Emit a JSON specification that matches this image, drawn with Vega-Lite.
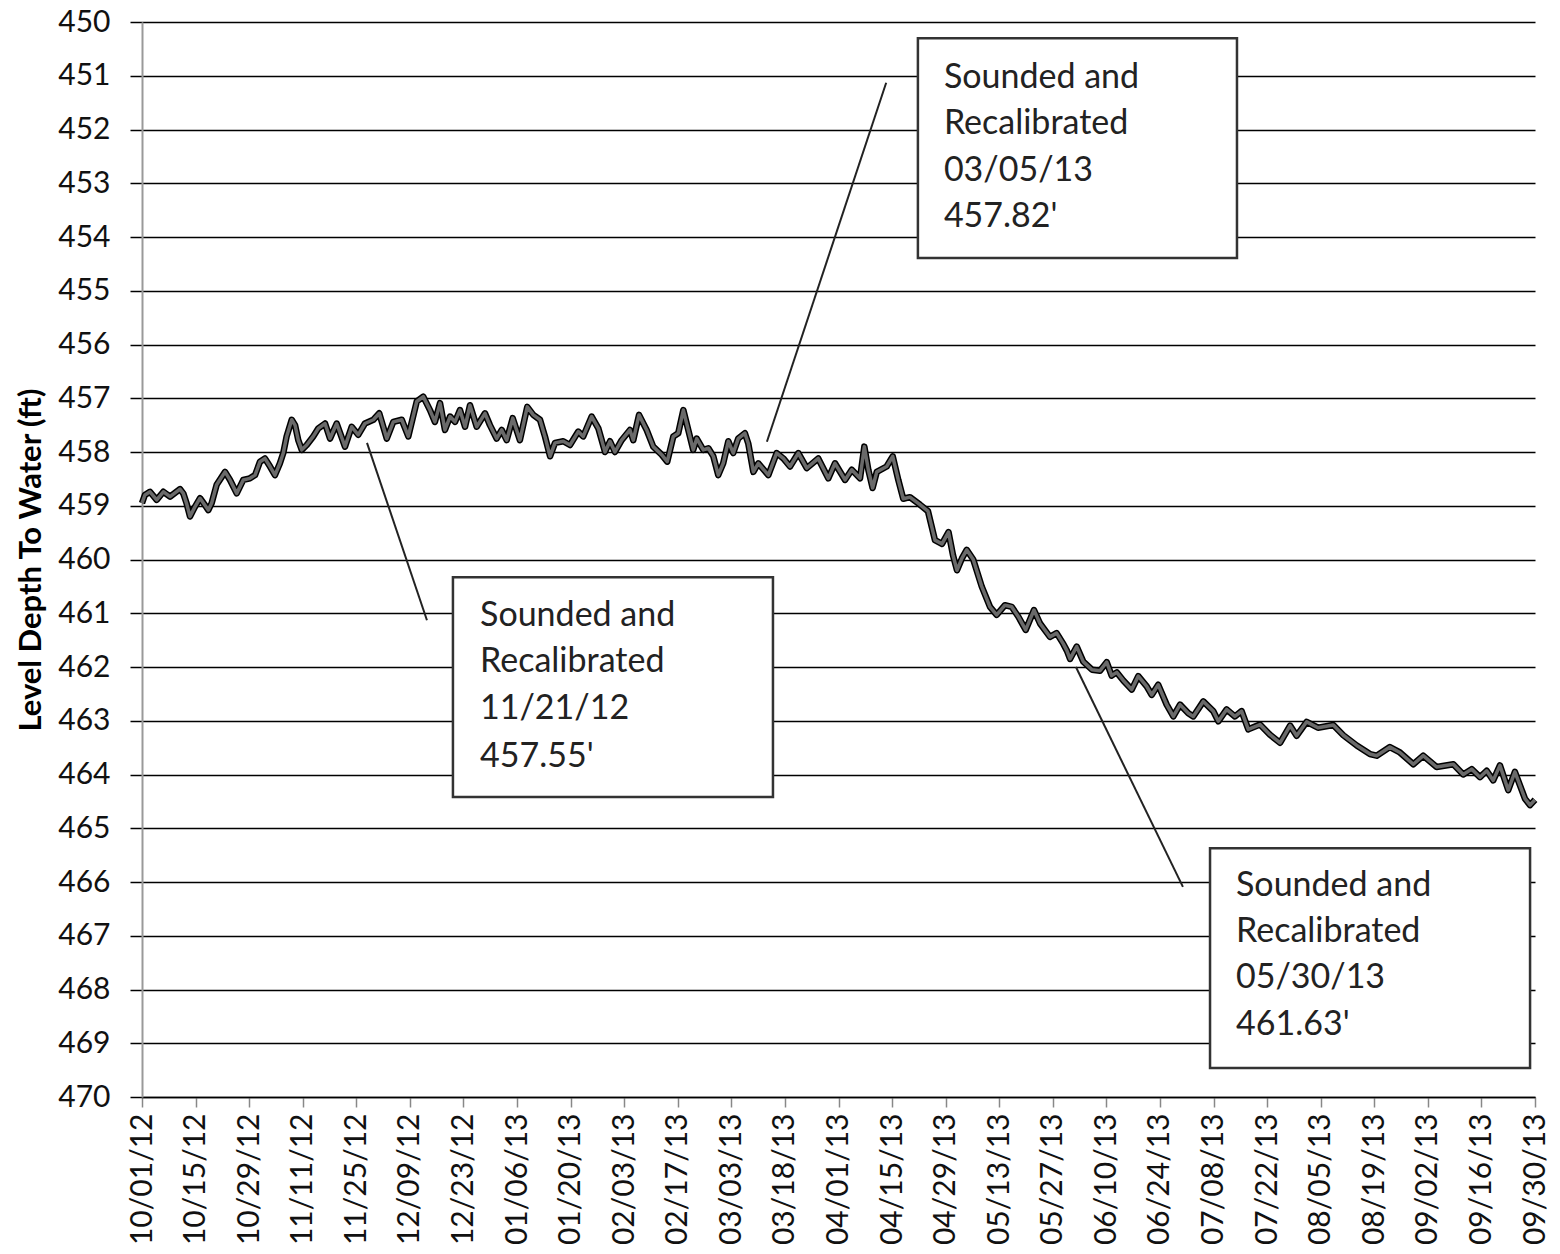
{
  "$schema": "https://vega.github.io/schema/vega-lite/v6.json",
  "width": 1393,
  "height": 1075,
  "autosize": "none",
  "padding": {"left": 142, "top": 22, "right": 25, "bottom": 157},
  "background": "white",
  "config": {"view": {"stroke": null}, "font": "Lato"},
  "datasets": {
    "series": [
      {"date": "2012-10-01T00:00Z", "depth": 458.95},
      {"date": "2012-10-01T18:00Z", "depth": 458.80},
      {"date": "2012-10-03T02:00Z", "depth": 458.74},
      {"date": "2012-10-04T20:00Z", "depth": 458.89},
      {"date": "2012-10-06T14:00Z", "depth": 458.74},
      {"date": "2012-10-08T08:00Z", "depth": 458.83},
      {"date": "2012-10-10T22:00Z", "depth": 458.69},
      {"date": "2012-10-11T19:00Z", "depth": 458.77},
      {"date": "2012-10-12T16:00Z", "depth": 458.96},
      {"date": "2012-10-13T13:00Z", "depth": 459.20},
      {"date": "2012-10-14T20:00Z", "depth": 459.02},
      {"date": "2012-10-16T04:00Z", "depth": 458.86},
      {"date": "2012-10-17T11:00Z", "depth": 458.99},
      {"date": "2012-10-18T08:00Z", "depth": 459.08},
      {"date": "2012-10-19T05:00Z", "depth": 458.95},
      {"date": "2012-10-20T12:00Z", "depth": 458.61},
      {"date": "2012-10-22T17:00Z", "depth": 458.37},
      {"date": "2012-10-24T00:00Z", "depth": 458.52},
      {"date": "2012-10-25T18:00Z", "depth": 458.77},
      {"date": "2012-10-27T11:00Z", "depth": 458.52},
      {"date": "2012-10-29T05:00Z", "depth": 458.49},
      {"date": "2012-10-30T13:00Z", "depth": 458.43},
      {"date": "2012-10-31T20:00Z", "depth": 458.18},
      {"date": "2012-11-02T03:00Z", "depth": 458.12},
      {"date": "2012-11-03T11:00Z", "depth": 458.27},
      {"date": "2012-11-04T18:00Z", "depth": 458.43},
      {"date": "2012-11-06T01:00Z", "depth": 458.21},
      {"date": "2012-11-06T22:00Z", "depth": 458.02},
      {"date": "2012-11-07T19:00Z", "depth": 457.71},
      {"date": "2012-11-09T03:00Z", "depth": 457.40},
      {"date": "2012-11-10T00:00Z", "depth": 457.50},
      {"date": "2012-11-10T20:00Z", "depth": 457.78},
      {"date": "2012-11-11T18:00Z", "depth": 457.96},
      {"date": "2012-11-13T01:00Z", "depth": 457.87},
      {"date": "2012-11-14T18:00Z", "depth": 457.71},
      {"date": "2012-11-16T02:00Z", "depth": 457.56},
      {"date": "2012-11-17T20:00Z", "depth": 457.47},
      {"date": "2012-11-19T03:00Z", "depth": 457.75},
      {"date": "2012-11-20T21:00Z", "depth": 457.47},
      {"date": "2012-11-23T01:00Z", "depth": 457.90},
      {"date": "2012-11-24T19:00Z", "depth": 457.53},
      {"date": "2012-11-26T12:00Z", "depth": 457.68},
      {"date": "2012-11-28T06:00Z", "depth": 457.47},
      {"date": "2012-11-30T11:00Z", "depth": 457.40},
      {"date": "2012-12-02T00:00Z", "depth": 457.28},
      {"date": "2012-12-03T23:00Z", "depth": 457.75},
      {"date": "2012-12-05T16:00Z", "depth": 457.44},
      {"date": "2012-12-07T21:00Z", "depth": 457.40},
      {"date": "2012-12-09T14:00Z", "depth": 457.71},
      {"date": "2012-12-11T19:00Z", "depth": 457.06},
      {"date": "2012-12-13T12:00Z", "depth": 456.97},
      {"date": "2012-12-15T06:00Z", "depth": 457.22},
      {"date": "2012-12-16T13:00Z", "depth": 457.44},
      {"date": "2012-12-17T21:00Z", "depth": 457.09},
      {"date": "2012-12-19T04:00Z", "depth": 457.59},
      {"date": "2012-12-20T12:00Z", "depth": 457.34},
      {"date": "2012-12-21T19:00Z", "depth": 457.44},
      {"date": "2012-12-23T02:00Z", "depth": 457.22},
      {"date": "2012-12-24T10:00Z", "depth": 457.53},
      {"date": "2012-12-25T17:00Z", "depth": 457.13},
      {"date": "2012-12-27T11:00Z", "depth": 457.53},
      {"date": "2012-12-29T15:00Z", "depth": 457.28},
      {"date": "2012-12-30T22:00Z", "depth": 457.50},
      {"date": "2013-01-01T16:00Z", "depth": 457.75},
      {"date": "2013-01-03T00:00Z", "depth": 457.59},
      {"date": "2013-01-04T07:00Z", "depth": 457.78},
      {"date": "2013-01-05T21:00Z", "depth": 457.37},
      {"date": "2013-01-07T18:00Z", "depth": 457.78},
      {"date": "2013-01-09T16:00Z", "depth": 457.16},
      {"date": "2013-01-11T06:00Z", "depth": 457.31},
      {"date": "2013-01-13T00:00Z", "depth": 457.40},
      {"date": "2013-01-14T07:00Z", "depth": 457.71},
      {"date": "2013-01-15T15:00Z", "depth": 458.08},
      {"date": "2013-01-16T22:00Z", "depth": 457.83},
      {"date": "2013-01-19T02:00Z", "depth": 457.80},
      {"date": "2013-01-20T20:00Z", "depth": 457.87},
      {"date": "2013-01-23T00:00Z", "depth": 457.62},
      {"date": "2013-01-24T07:00Z", "depth": 457.71},
      {"date": "2013-01-26T12:00Z", "depth": 457.34},
      {"date": "2013-01-28T06:00Z", "depth": 457.56},
      {"date": "2013-01-30T00:00Z", "depth": 458.00},
      {"date": "2013-01-31T07:00Z", "depth": 457.80},
      {"date": "2013-02-01T14:00Z", "depth": 458.00},
      {"date": "2013-02-03T08:00Z", "depth": 457.78},
      {"date": "2013-02-05T12:00Z", "depth": 457.59},
      {"date": "2013-02-06T09:00Z", "depth": 457.78},
      {"date": "2013-02-07T21:00Z", "depth": 457.31},
      {"date": "2013-02-09T21:00Z", "depth": 457.59},
      {"date": "2013-02-11T14:00Z", "depth": 457.90},
      {"date": "2013-02-13T19:00Z", "depth": 458.05},
      {"date": "2013-02-15T06:00Z", "depth": 458.18},
      {"date": "2013-02-16T20:00Z", "depth": 457.71},
      {"date": "2013-02-18T03:00Z", "depth": 457.65},
      {"date": "2013-02-19T11:00Z", "depth": 457.22},
      {"date": "2013-02-20T18:00Z", "depth": 457.59},
      {"date": "2013-02-22T01:00Z", "depth": 457.96},
      {"date": "2013-02-22T23:00Z", "depth": 457.75},
      {"date": "2013-02-24T16:00Z", "depth": 457.96},
      {"date": "2013-02-26T00:00Z", "depth": 457.93},
      {"date": "2013-02-27T07:00Z", "depth": 458.08},
      {"date": "2013-02-28T14:00Z", "depth": 458.43},
      {"date": "2013-03-01T21:00Z", "depth": 458.21},
      {"date": "2013-03-03T05:00Z", "depth": 457.80},
      {"date": "2013-03-04T12:00Z", "depth": 458.02},
      {"date": "2013-03-05T19:00Z", "depth": 457.75},
      {"date": "2013-03-07T13:00Z", "depth": 457.65},
      {"date": "2013-03-08T10:00Z", "depth": 457.84},
      {"date": "2013-03-09T18:00Z", "depth": 458.37},
      {"date": "2013-03-11T01:00Z", "depth": 458.21},
      {"date": "2013-03-13T16:00Z", "depth": 458.43},
      {"date": "2013-03-15T20:00Z", "depth": 458.02},
      {"date": "2013-03-17T14:00Z", "depth": 458.12},
      {"date": "2013-03-19T08:00Z", "depth": 458.27},
      {"date": "2013-03-21T12:00Z", "depth": 458.02},
      {"date": "2013-03-23T17:00Z", "depth": 458.30},
      {"date": "2013-03-26T17:00Z", "depth": 458.12},
      {"date": "2013-03-29T08:00Z", "depth": 458.49},
      {"date": "2013-03-31T02:00Z", "depth": 458.21},
      {"date": "2013-04-02T17:00Z", "depth": 458.52},
      {"date": "2013-04-04T11:00Z", "depth": 458.33},
      {"date": "2013-04-06T15:00Z", "depth": 458.49},
      {"date": "2013-04-07T18:00Z", "depth": 457.90},
      {"date": "2013-04-08T19:00Z", "depth": 458.33},
      {"date": "2013-04-09T22:00Z", "depth": 458.67},
      {"date": "2013-04-11T00:00Z", "depth": 458.37},
      {"date": "2013-04-13T14:00Z", "depth": 458.27},
      {"date": "2013-04-15T04:00Z", "depth": 458.08},
      {"date": "2013-04-16T15:00Z", "depth": 458.52},
      {"date": "2013-04-17T22:00Z", "depth": 458.87},
      {"date": "2013-04-19T16:00Z", "depth": 458.84},
      {"date": "2013-04-22T07:00Z", "depth": 458.98},
      {"date": "2013-04-24T09:00Z", "depth": 459.10},
      {"date": "2013-04-26T05:00Z", "depth": 459.64},
      {"date": "2013-04-28T01:00Z", "depth": 459.71},
      {"date": "2013-04-29T18:00Z", "depth": 459.49},
      {"date": "2013-04-30T22:00Z", "depth": 459.92},
      {"date": "2013-05-01T23:00Z", "depth": 460.20},
      {"date": "2013-05-03T06:00Z", "depth": 459.98},
      {"date": "2013-05-04T12:00Z", "depth": 459.82},
      {"date": "2013-05-06T05:00Z", "depth": 460.00},
      {"date": "2013-05-08T10:00Z", "depth": 460.50},
      {"date": "2013-05-10T14:00Z", "depth": 460.88},
      {"date": "2013-05-12T08:00Z", "depth": 461.03},
      {"date": "2013-05-14T12:00Z", "depth": 460.85},
      {"date": "2013-05-16T06:00Z", "depth": 460.88},
      {"date": "2013-05-17T23:00Z", "depth": 461.06},
      {"date": "2013-05-19T22:00Z", "depth": 461.31},
      {"date": "2013-05-22T02:00Z", "depth": 460.94},
      {"date": "2013-05-23T16:00Z", "depth": 461.19},
      {"date": "2013-05-26T06:00Z", "depth": 461.44},
      {"date": "2013-05-28T00:00Z", "depth": 461.37},
      {"date": "2013-05-29T18:00Z", "depth": 461.57},
      {"date": "2013-05-30T17:00Z", "depth": 461.70},
      {"date": "2013-05-31T12:00Z", "depth": 461.85},
      {"date": "2013-06-02T06:00Z", "depth": 461.62},
      {"date": "2013-06-03T23:00Z", "depth": 461.90},
      {"date": "2013-06-06T06:00Z", "depth": 462.05},
      {"date": "2013-06-08T08:00Z", "depth": 462.07},
      {"date": "2013-06-10T02:00Z", "depth": 461.91},
      {"date": "2013-06-11T09:00Z", "depth": 462.16},
      {"date": "2013-06-12T17:00Z", "depth": 462.10},
      {"date": "2013-06-14T10:00Z", "depth": 462.25},
      {"date": "2013-06-16T15:00Z", "depth": 462.42},
      {"date": "2013-06-18T08:00Z", "depth": 462.17},
      {"date": "2013-06-20T13:00Z", "depth": 462.36},
      {"date": "2013-06-21T20:00Z", "depth": 462.52},
      {"date": "2013-06-23T13:00Z", "depth": 462.33},
      {"date": "2013-06-25T18:00Z", "depth": 462.70},
      {"date": "2013-06-27T12:00Z", "depth": 462.92},
      {"date": "2013-06-29T06:00Z", "depth": 462.70},
      {"date": "2013-07-01T10:00Z", "depth": 462.86},
      {"date": "2013-07-02T17:00Z", "depth": 462.92},
      {"date": "2013-07-05T08:00Z", "depth": 462.64},
      {"date": "2013-07-07T22:00Z", "depth": 462.82},
      {"date": "2013-07-09T06:00Z", "depth": 463.01},
      {"date": "2013-07-11T10:00Z", "depth": 462.79},
      {"date": "2013-07-13T14:00Z", "depth": 462.92},
      {"date": "2013-07-15T08:00Z", "depth": 462.82},
      {"date": "2013-07-17T02:00Z", "depth": 463.16},
      {"date": "2013-07-20T03:00Z", "depth": 463.07},
      {"date": "2013-07-22T18:00Z", "depth": 463.26},
      {"date": "2013-07-25T09:00Z", "depth": 463.41},
      {"date": "2013-07-28T00:00Z", "depth": 463.09},
      {"date": "2013-07-29T17:00Z", "depth": 463.28},
      {"date": "2013-08-01T08:00Z", "depth": 463.02},
      {"date": "2013-08-04T07:00Z", "depth": 463.13},
      {"date": "2013-08-08T07:00Z", "depth": 463.08},
      {"date": "2013-08-10T22:00Z", "depth": 463.27},
      {"date": "2013-08-14T10:00Z", "depth": 463.46},
      {"date": "2013-08-17T21:00Z", "depth": 463.62},
      {"date": "2013-08-19T15:00Z", "depth": 463.65},
      {"date": "2013-08-23T02:00Z", "depth": 463.49},
      {"date": "2013-08-25T17:00Z", "depth": 463.59},
      {"date": "2013-08-29T05:00Z", "depth": 463.81},
      {"date": "2013-08-31T19:00Z", "depth": 463.65},
      {"date": "2013-09-04T07:00Z", "depth": 463.86},
      {"date": "2013-09-08T16:00Z", "depth": 463.81},
      {"date": "2013-09-11T06:00Z", "depth": 464.00},
      {"date": "2013-09-13T11:00Z", "depth": 463.90},
      {"date": "2013-09-15T15:00Z", "depth": 464.05},
      {"date": "2013-09-17T09:00Z", "depth": 463.93},
      {"date": "2013-09-19T02:00Z", "depth": 464.11},
      {"date": "2013-09-20T20:00Z", "depth": 463.83},
      {"date": "2013-09-23T00:00Z", "depth": 464.29},
      {"date": "2013-09-24T18:00Z", "depth": 463.95},
      {"date": "2013-09-27T09:00Z", "depth": 464.45},
      {"date": "2013-09-28T17:00Z", "depth": 464.57},
      {"date": "2013-09-30T00:00Z", "depth": 464.47}
    ],
    "leaders": [
      {"x": "2012-12-14T11:00Z", "x2": "2012-11-28T19:00Z", "y": 461.13, "y2": 457.83},
      {"x": "2013-04-13T11:00Z", "x2": "2013-03-13T07:00Z", "y": 451.13, "y2": 457.81},
      {"x": "2013-06-02T01:00Z", "x2": "2013-06-30T00:00Z", "y": 462.0, "y2": 466.09}
    ],
    "boxes": [
      {"x": "2012-12-21T06:00Z", "x2": "2013-03-14T21:00Z", "y": 460.33, "y2": 464.42},
      {"x": "2013-04-21T18:00Z", "x2": "2013-07-14T03:00Z", "y": 450.30, "y2": 454.39},
      {"x": "2013-07-07T02:00Z", "x2": "2013-09-28T17:00Z", "y": 465.37, "y2": 469.46}
    ],
    "notes": [
      {"x": "2012-12-28T08:00Z", "y": 461.05, "label": "Sounded and"},
      {"x": "2012-12-28T08:00Z", "y": 461.91, "label": "Recalibrated"},
      {"x": "2012-12-28T08:00Z", "y": 462.78, "label": "11/21/12"},
      {"x": "2012-12-28T08:00Z", "y": 463.67, "label": "457.55'"},
      {"x": "2013-04-28T13:00Z", "y": 451.04, "label": "Sounded and"},
      {"x": "2013-04-28T13:00Z", "y": 451.90, "label": "Recalibrated"},
      {"x": "2013-04-28T13:00Z", "y": 452.77, "label": "03/05/13"},
      {"x": "2013-04-28T13:00Z", "y": 453.63, "label": "457.82'"},
      {"x": "2013-07-13T21:00Z", "y": 466.07, "label": "Sounded and"},
      {"x": "2013-07-13T21:00Z", "y": 466.93, "label": "Recalibrated"},
      {"x": "2013-07-13T21:00Z", "y": 467.79, "label": "05/30/13"},
      {"x": "2013-07-13T21:00Z", "y": 468.66, "label": "461.63'"}
    ]
  },
  "encoding": {
    "x": {
      "field": "x", "type": "temporal",
      "scale": {"type": "utc", "domain": [1349049600000, 1380499200000], "nice": false},
      "axis": {
        "title": null,
        "grid": false,
        "values": [1349049600000, 1350259200000, 1351468800000, 1352678400000, 1353888000000, 1355097600000, 1356307200000, 1357516800000, 1358726400000, 1359936000000, 1361145600000, 1362355200000, 1363564800000, 1364774400000, 1365984000000, 1367193600000, 1368403200000, 1369612800000, 1370822400000, 1372032000000, 1373241600000, 1374451200000, 1375660800000, 1376870400000, 1378080000000, 1379289600000, 1380499200000],
        "labelExpr": "utcFormat(datum.value - ((datum.value >= 1352678400000 && datum.value <= 1362355200000) ? 86400000 : 0), '%m/%d/%y')",
        "labelAngle": -90,
        "labelAlign": "right",
        "labelBaseline": "middle",
        "labelFontSize": 30,
        "labelFont": "Lato",
        "labelColor": "#111",
        "labelPadding": 6,
        "labelOverlap": false,
        "labelFlush": false,
        "tickColor": "#888",
        "tickSize": 10,
        "tickWidth": 1.5,
        "domainColor": "black",
        "domainWidth": 1.5
      }
    }
  },
  "layer": [
    {
      "data": {"name": "series"},
      "mark": {"type": "line", "color": "black", "strokeWidth": 6.5, "strokeJoin": "round"},
      "encoding": {
        "x": {"field": "date", "type": "temporal"},
        "y": {
          "field": "depth", "type": "quantitative",
          "scale": {"domain": [450, 470], "reverse": true, "nice": false, "zero": false},
          "axis": {
            "title": "Level Depth To Water (ft)",
            "titleFont": "Lato",
            "titleFontSize": 31,
            "titleFontWeight": "bold",
            "titleColor": "black",
            "titlePadding": 10,
            "values": [450, 451, 452, 453, 454, 455, 456, 457, 458, 459, 460, 461, 462, 463, 464, 465, 466, 467, 468, 469, 470],
            "labelFontSize": 30,
            "labelFont": "Lato",
            "labelColor": "#111",
            "labelPadding": 20,
            "tickSize": 12,
            "tickColor": "black",
            "tickWidth": 1.5,
            "grid": true,
            "gridColor": "black",
            "gridWidth": 1.5,
            "domainColor": "#999",
            "domainWidth": 2
          }
        }
      }
    },
    {
      "data": {"name": "series"},
      "mark": {"type": "line", "color": "#6a6a6a", "strokeWidth": 3.5, "strokeJoin": "round"},
      "encoding": {
        "x": {"field": "date", "type": "temporal"},
        "y": {"field": "depth", "type": "quantitative"}
      }
    },
    {
      "data": {"name": "leaders"},
      "mark": {"type": "rule", "color": "#222", "strokeWidth": 2},
      "encoding": {
        "x": {"field": "x", "type": "temporal"},
        "x2": {"field": "x2"},
        "y": {"field": "y", "type": "quantitative"},
        "y2": {"field": "y2"}
      }
    },
    {
      "data": {"name": "boxes"},
      "mark": {"type": "rect", "fill": "white", "stroke": "#333", "strokeWidth": 2.5},
      "encoding": {
        "x": {"field": "x", "type": "temporal"},
        "x2": {"field": "x2"},
        "y": {"field": "y", "type": "quantitative"},
        "y2": {"field": "y2"}
      }
    },
    {
      "data": {"name": "notes"},
      "mark": {"type": "text", "align": "left", "baseline": "middle", "fontSize": 34, "font": "Lato", "color": "#222"},
      "encoding": {
        "x": {"field": "x", "type": "temporal"},
        "y": {"field": "y", "type": "quantitative"},
        "text": {"field": "label"}
      }
    }
  ]
}
